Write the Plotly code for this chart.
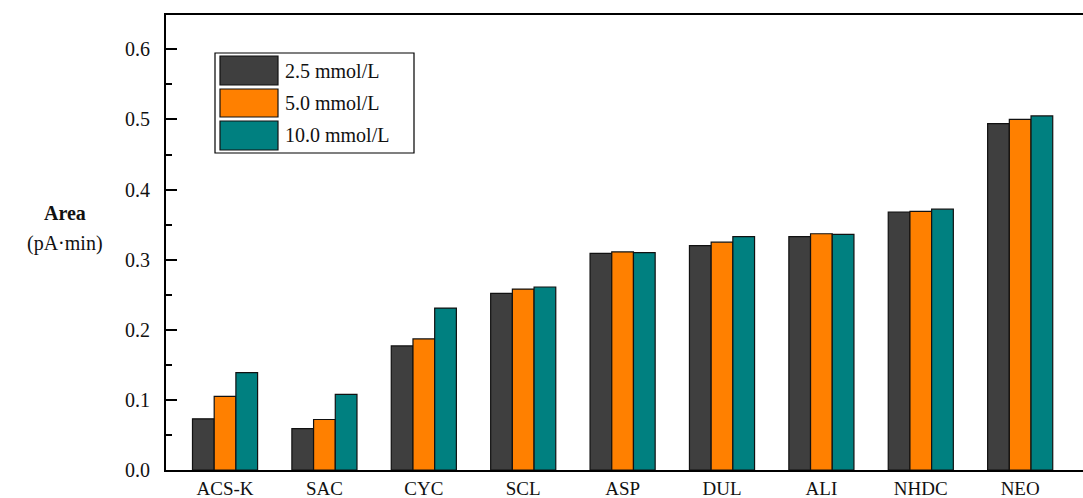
import plotly.graph_objects as go

categories = ["ACS-K", "SAC", "CYC", "SCL", "ASP", "DUL", "ALI", "NHDC", "NEO"]
series_names = ["2.5 mmol/L", "5.0 mmol/L", "10.0 mmol/L"]
vals_25 = [0.073, 0.059, 0.177, 0.252, 0.309, 0.320, 0.333, 0.368, 0.494]
vals_50 = [0.105, 0.072, 0.187, 0.258, 0.311, 0.325, 0.337, 0.369, 0.500]
vals_100 = [0.139, 0.108, 0.231, 0.261, 0.310, 0.333, 0.336, 0.372, 0.505]
colors = ["#3f3f3f", "#ff8000", "#008080"]
y_ticks = [0.0, 0.1, 0.2, 0.3, 0.4, 0.5, 0.6]

FONT = "Liberation Serif"
W, H = 1083, 498
L, R, T, B = 166, 0, 15, 28

fig = go.Figure()
for name, vals, col in zip(series_names, [vals_25, vals_50, vals_100], colors):
    fig.add_trace(go.Bar(
        x=list(range(len(categories))), y=vals, name=name,
        marker=dict(color=col, line=dict(color="#111111", width=1.2)),
        showlegend=False,
    ))

fig.update_layout(
    width=W, height=H,
    margin=dict(l=L, r=R, t=T, b=B, autoexpand=False),
    paper_bgcolor="white", plot_bgcolor="white",
    barmode="group", bargap=0.345, bargroupgap=0,
    font=dict(family=FONT, size=20, color="#111111"),
)
fig.update_xaxes(
    range=[-0.594, 8.632], automargin=False,
    tickmode="array", tickvals=list(range(len(categories))), ticktext=categories,
    tickfont=dict(size=19),
    showline=True, linecolor="black", linewidth=2, mirror=True,
    ticks="", showgrid=False, zeroline=False,
    ticklabelstandoff=0,
)
fig.update_yaxes(
    range=[0, 0.649], automargin=False,
    tickmode="array", tickvals=y_ticks, ticktext=[f"{v:.1f}" for v in y_ticks],
    showline=True, linecolor="black", linewidth=2, mirror=False,
    ticks="inside", ticklen=11, tickwidth=2, tickcolor="black",
    minor=dict(ticks="inside", ticklen=6, tickwidth=1.5, tickcolor="black", dtick=0.05, tick0=0),
    showgrid=False, zeroline=False,
    ticklabelstandoff=10,
)

pw = W - L - R
ph = H - T - B
def px_x(x):
    return (x - L) / pw
def px_y(y):
    return (H - B - y) / ph

# y-axis title (horizontal)
fig.add_annotation(text="<b>Area</b>", xref="paper", yref="paper",
                   x=px_x(65), y=px_y(213), showarrow=False,
                   xanchor="center", yanchor="middle", font=dict(size=20))
fig.add_annotation(text="(pA·min)", xref="paper", yref="paper",
                   x=px_x(65), y=px_y(243), showarrow=False,
                   xanchor="center", yanchor="middle", font=dict(size=20))

# custom legend box
fig.add_shape(type="rect", xref="paper", yref="paper",
              x0=px_x(215), x1=px_x(414), y0=px_y(153), y1=px_y(53),
              line=dict(color="black", width=1.2), fillcolor="white")
sw_y = [(56, 85), (89, 117), (121, 150)]
for (y0, y1), col, name in zip(sw_y, colors, series_names):
    fig.add_shape(type="rect", xref="paper", yref="paper",
                  x0=px_x(220), x1=px_x(278), y0=px_y(y1), y1=px_y(y0),
                  line=dict(color="#111111", width=1.2), fillcolor=col)
    fig.add_annotation(text=name, xref="paper", yref="paper",
                       x=px_x(283), y=px_y((y0 + y1) / 2), showarrow=False,
                       xanchor="left", yanchor="middle", font=dict(size=20))

fig.write_html("out.html", config={"displayModeBar": False})

# remove default page margin so the figure sits at the window's top-left
with open("out.html", "r", encoding="utf-8") as f:
    html = f.read()
html = html.replace("<head>", "<head><style>html,body{margin:0;padding:0;overflow:hidden;}</style>", 1)
with open("out.html", "w", encoding="utf-8") as f:
    f.write(html)
